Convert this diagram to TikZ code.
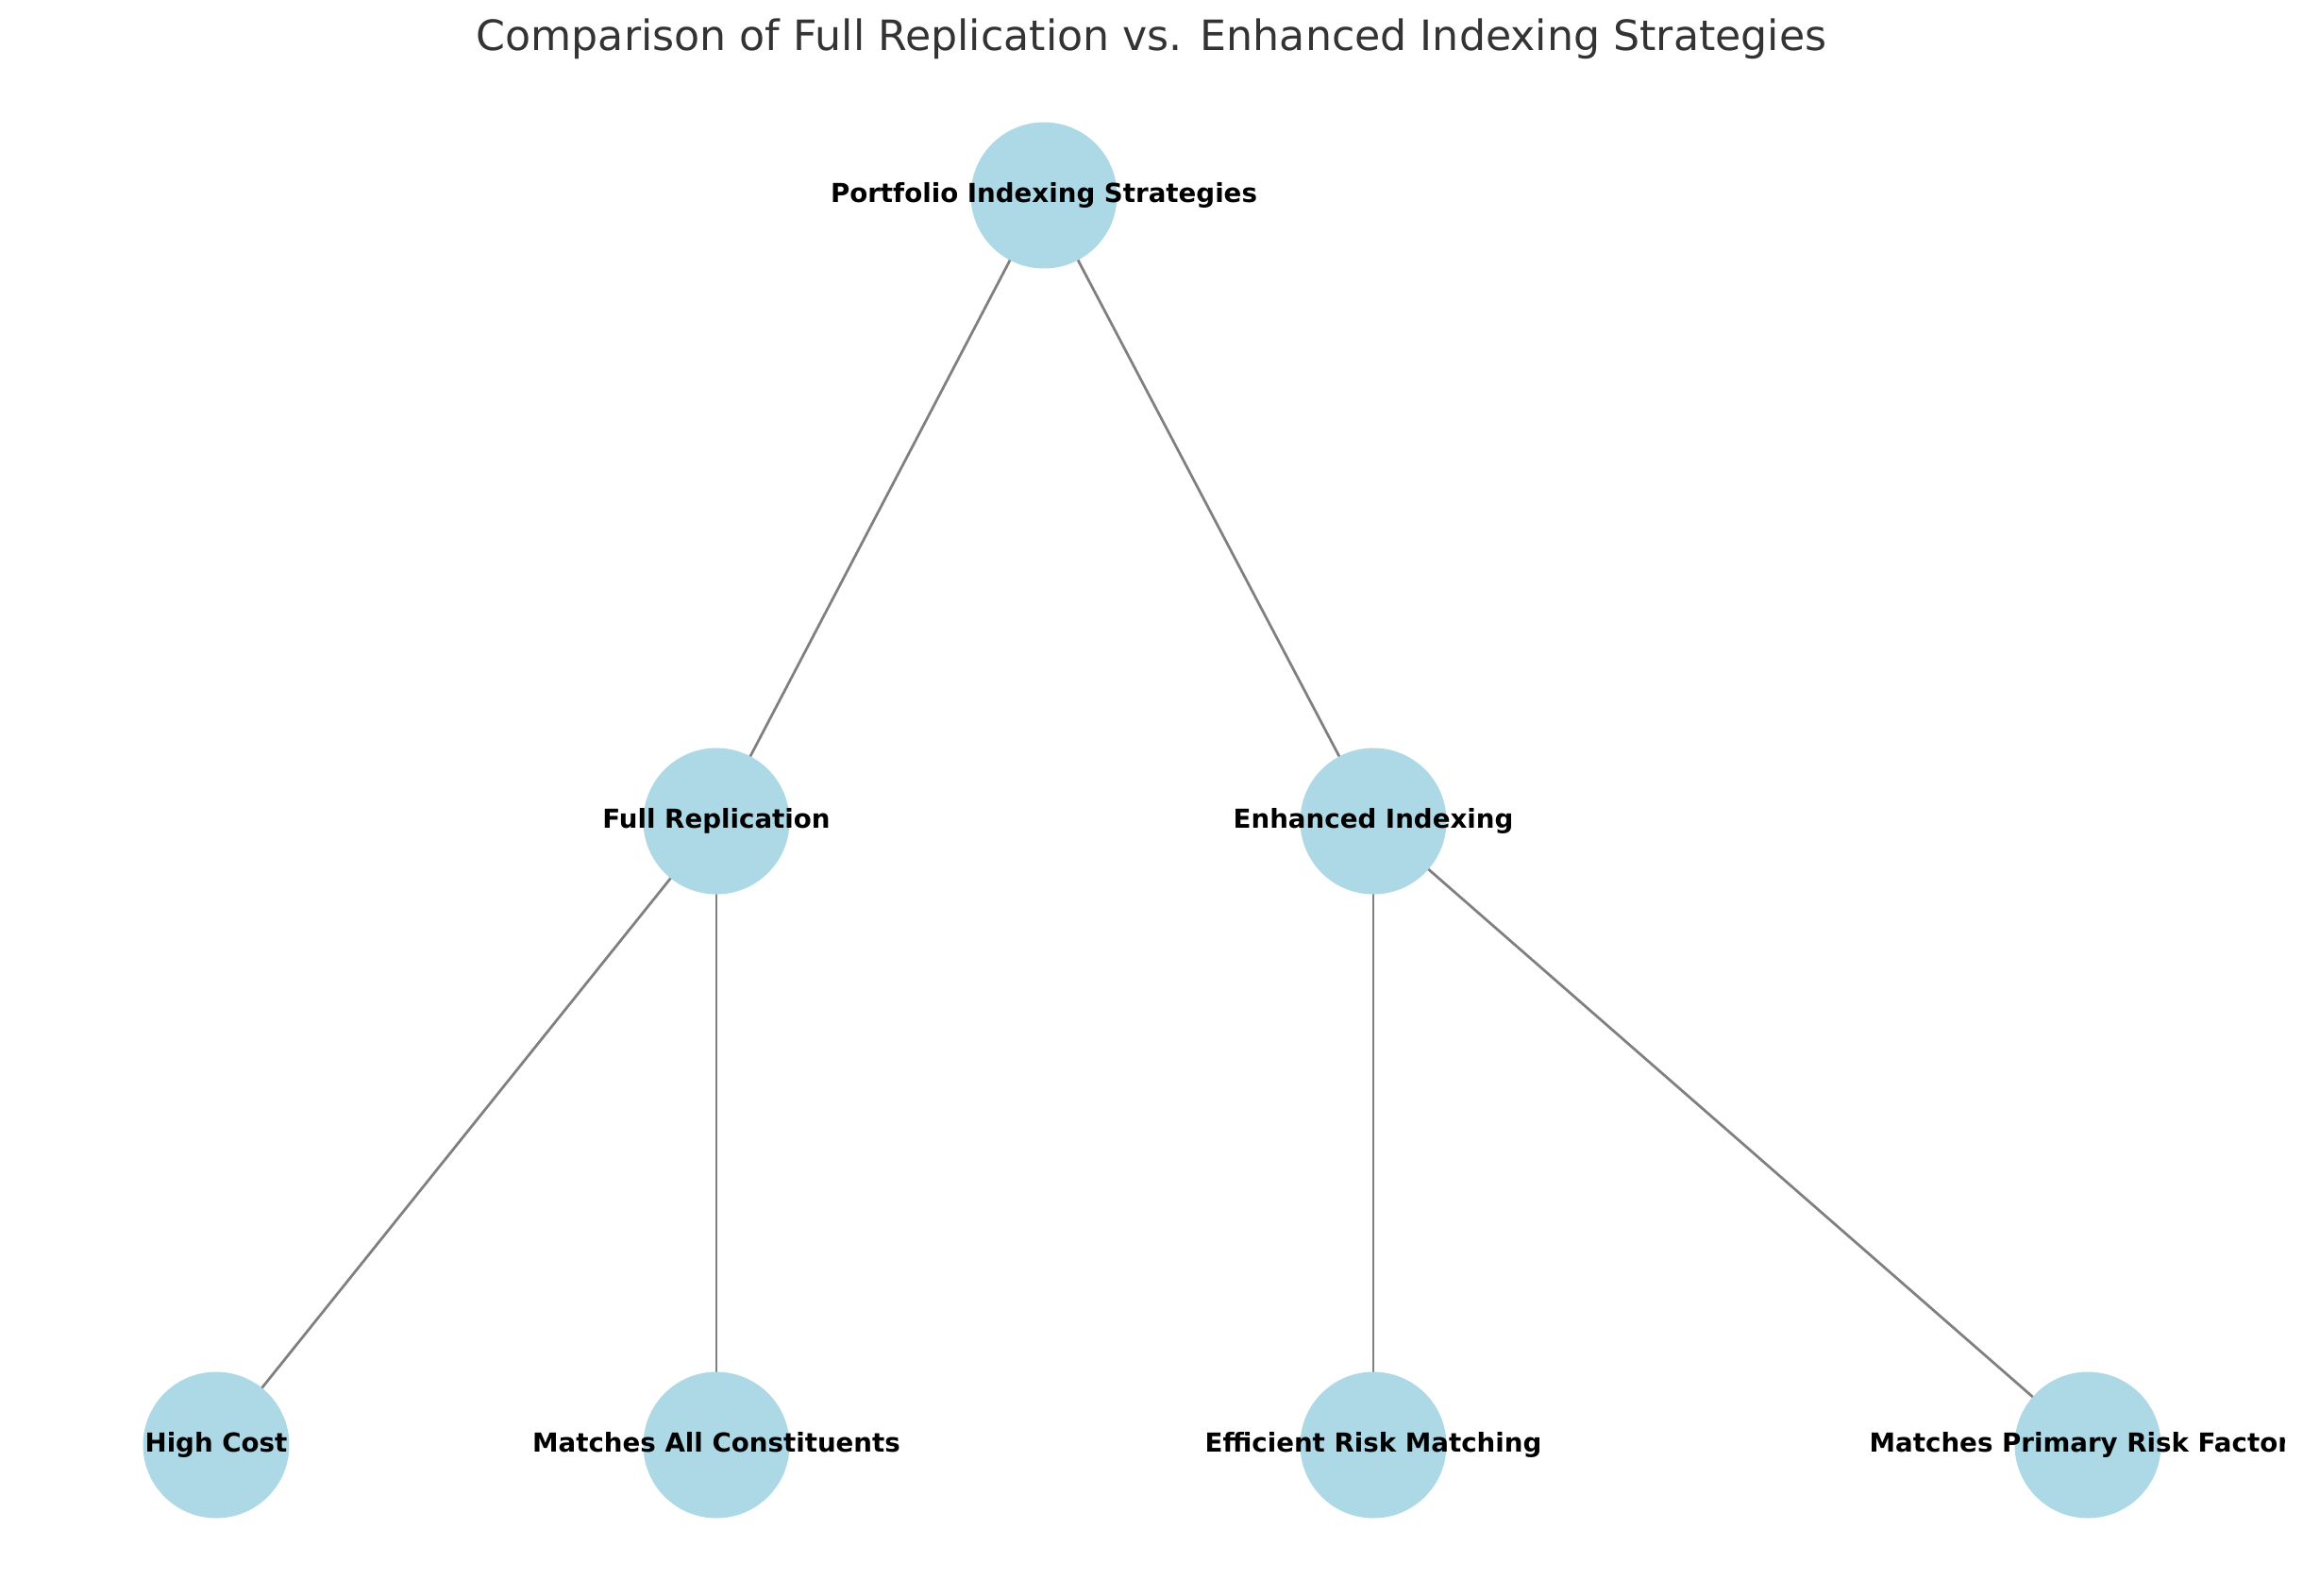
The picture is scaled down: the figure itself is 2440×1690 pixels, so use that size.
\documentclass[tikz,border=0pt]{standalone}
\usepackage{fontspec}
\setmainfont{DejaVu Sans}
\usetikzlibrary{backgrounds}
\definecolor{nodeblue}{HTML}{ADD8E6}
\definecolor{edgegray}{HTML}{808080}
\definecolor{titlegray}{HTML}{333333}
\tikzset{
  bubble/.style={circle, fill=nodeblue, draw=none, minimum size=56pt, inner sep=0pt},
  lbl/.style={font=\bfseries\fontsize{10pt}{12pt}\selectfont, text=black, inner sep=0pt, text height=0.76em, text depth=0.24em},
  link/.style={draw=edgegray, line width=1pt},
}
\begin{document}
\begin{tikzpicture}[x=0.36135pt, y=-0.36135pt]
\useasboundingbox (0,0) rectangle (2440,1690);
\node[font=\fontsize{16pt}{19pt}\selectfont, text=titlegray, anchor=base, inner sep=0pt] (title) at (1220,53) {Comparison of Full Replication vs. Enhanced Indexing Strategies};
% node circles
\node[bubble] (top) at (1106,207) {};
\node[bubble] (fr) at (759,870) {};
\node[bubble] (ei) at (1455,870) {};
\node[bubble] (hc) at (229,1531) {};
\node[bubble] (ma) at (759,1531) {};
\node[bubble] (er) at (1455,1531) {};
\node[bubble] (mp) at (2212,1531) {};
% edges
\begin{scope}[on background layer]
\draw[link] (top.center) -- (fr.center);
\draw[link] (top.center) -- (ei.center);
\draw[link] (fr.center) -- (hc.center);
\draw[link] (fr.center) -- (ma.center);
\draw[link] (ei.center) -- (er.center);
\draw[link] (ei.center) -- (mp.center);
\end{scope}
% labels
\node[lbl] (ltop) at (top) {Portfolio Indexing Strategies};
\node[lbl] (lfr) at (fr) {Full Replication};
\node[lbl] (lei) at (ei) {Enhanced Indexing};
\node[lbl] (lhc) at (hc) {High Cost};
\node[lbl] (lma) at (ma) {Matches All Constituents};
\node[lbl] (ler) at (er) {Efficient Risk Matching};
\begin{scope}
\clip (0,0) rectangle (2420,1690);
\node[lbl] (lmp) at (mp) {Matches Primary Risk Factors};
\end{scope}
\end{tikzpicture}
\end{document}
